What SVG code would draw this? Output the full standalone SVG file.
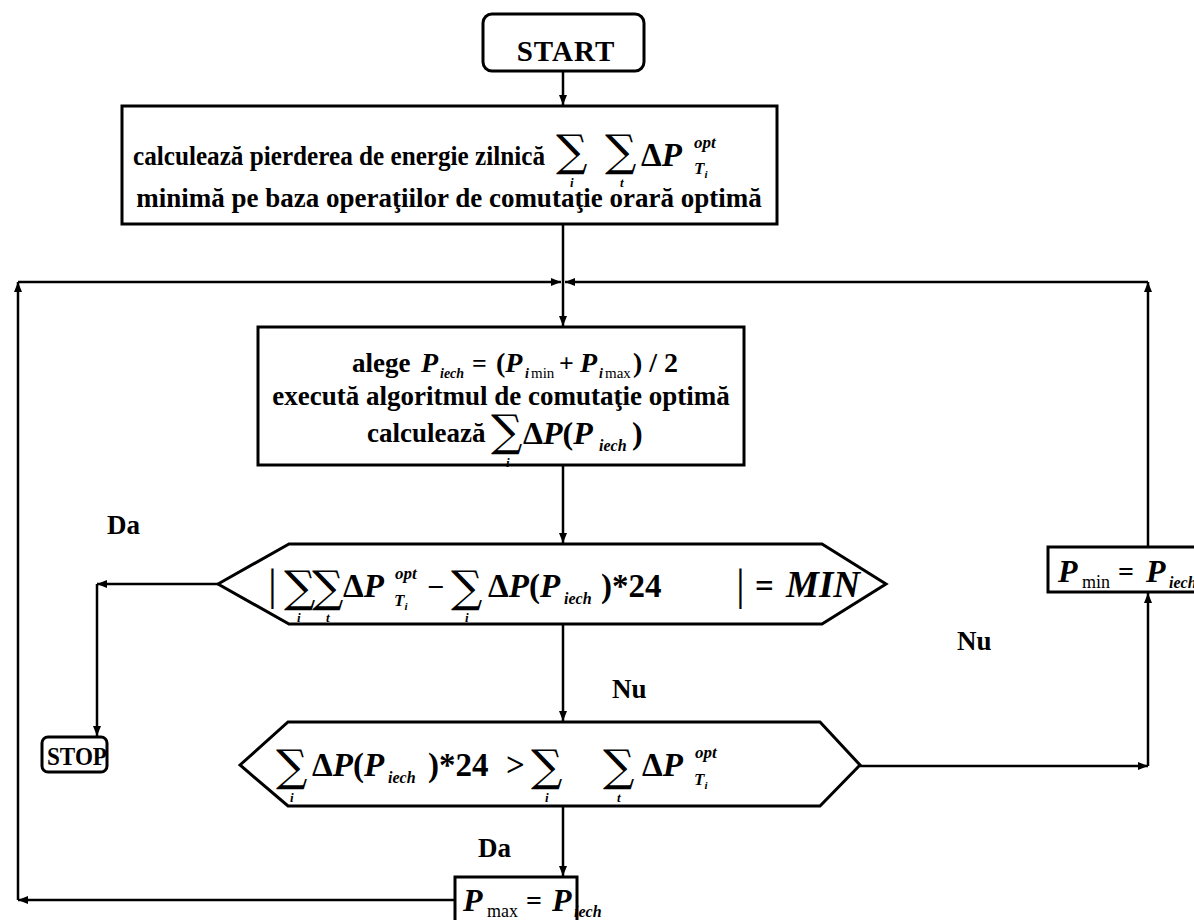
<svg xmlns="http://www.w3.org/2000/svg" width="1194" height="920" viewBox="0 0 1194 920">
  <style>
    .bx { fill: #fff; stroke: #000; stroke-width: 3; }
    .ln { fill: none; stroke: #000; stroke-width: 2.5; }
    .t { font-family: "Liberation Serif", "DejaVu Serif", serif; font-weight: bold; fill: #000; font-size: 27px; }
    .m { font-family: "Liberation Serif", "DejaVu Serif", serif; font-style: italic; font-weight: bold; fill: #000; }
    .r { font-family: "Liberation Serif", "DejaVu Serif", serif; font-weight: bold; fill: #000; }
    .n { font-family: "Liberation Serif", "DejaVu Serif", serif; font-weight: normal; fill: #000; }
    .sg { font-family: "DejaVu Serif", "Liberation Serif", serif; font-weight: normal; fill: #000; font-size: 44px; }
    .sub { font-family: "Liberation Serif", "DejaVu Serif", serif; font-style: italic; font-weight: bold; fill: #000; font-size: 13px; }
  </style>
  <defs>
    <marker id="ah" viewBox="0 0 10 8" refX="10" refY="4" markerWidth="10" markerHeight="8" markerUnits="userSpaceOnUse" orient="auto">
      <path d="M0,0 L10,4 L0,8 z" fill="#000"/>
    </marker>
  </defs>

  <rect width="1194" height="920" fill="#fff"/>

  <!-- connectors -->
  <g id="connectors">
    <path class="ln" d="M563,71 V105" marker-end="url(#ah)"/>
    <path class="ln" d="M563,224 V326" marker-end="url(#ah)"/>
    <path class="ln" d="M563,465 V543" marker-end="url(#ah)"/>
    <path class="ln" d="M563,624 V721" marker-end="url(#ah)"/>
    <path class="ln" d="M563,806 V876" marker-end="url(#ah)"/>
    <!-- Da branch to STOP -->
    <path class="ln" d="M218,584 H97" marker-end="url(#ah)"/>
    <path class="ln" d="M97,584 V736" marker-end="url(#ah)"/>
    <!-- Nu branch to Pmin -->
    <path class="ln" d="M860,766 H1148" marker-end="url(#ah)"/>
    <path class="ln" d="M1148,766 V593" marker-end="url(#ah)"/>
    <!-- loop back from Pmin -->
    <path class="ln" d="M1148,547 V282" marker-end="url(#ah)"/>
    <path class="ln" d="M1148,282 H565" marker-end="url(#ah)"/>
    <!-- loop back from Pmax -->
    <path class="ln" d="M455,900 H18" marker-end="url(#ah)"/>
    <path class="ln" d="M18,900 V282" marker-end="url(#ah)"/>
    <path class="ln" d="M18,282 H561" marker-end="url(#ah)"/>
  </g>

  <!-- START -->
  <g id="start">
    <rect class="bx" x="483" y="14" width="161" height="57" rx="9"/>
    <text class="r" x="566" y="61" text-anchor="middle" font-size="29" letter-spacing="1">START</text>
  </g>

  <!-- daily energy loss -->
  <g id="energy">
    <rect class="bx" x="122" y="106" width="655" height="118"/>
    <text class="t" x="133" y="165" textLength="412" lengthAdjust="spacingAndGlyphs">calculează pierderea de energie zilnică</text>
    <text class="sg" x="556" y="166">∑</text>
    <text class="sub" x="570" y="187" font-size="12">i</text>
    <text class="sg" x="605" y="166">∑</text>
    <text class="sub" x="620" y="187" font-size="12">t</text>
    <text class="r" x="641" y="166" font-size="33">Δ<tspan class="m">P</tspan></text>
    <text class="m" x="694" y="148" font-size="17">opt</text>
    <text class="m" x="694" y="174" font-size="17">T<tspan font-size="11" dy="4">i</tspan></text>
    <text class="t" x="449" y="207" text-anchor="middle">minimă pe baza operaţiilor de comutaţie orară optimă</text>
  </g>

  <!-- choose Piech -->
  <g id="choose">
    <rect class="bx" x="258" y="327" width="486" height="138"/>
    <text class="t" x="352" y="372">alege</text>
    <text class="m" x="421" y="372" font-size="28">P</text>
    <text class="m" x="440" y="378" font-size="14">iech</text>
    <text class="r" x="472" y="372" font-size="26">=</text>
    <text class="r" x="496" y="372" font-size="28">(<tspan class="m">P</tspan></text>
    <text class="m" x="525" y="378" font-size="14">i</text>
    <text class="n" x="531" y="378" font-size="15">min</text>
    <text class="r" x="559" y="372" font-size="26">+</text>
    <text class="m" x="580" y="372" font-size="28">P</text>
    <text class="m" x="599" y="378" font-size="14">i</text>
    <text class="n" x="605" y="378" font-size="15">max</text>
    <text class="r" x="633" y="372" font-size="28">) / 2</text>
    <text class="t" x="501" y="405" text-anchor="middle">execută algoritmul de comutaţie optimă</text>
    <text class="t" x="367" y="442">calculează</text>
    <text class="sg" x="491" y="446">∑</text>
    <text class="sub" x="506" y="467">i</text>
    <text class="r" x="523" y="444" font-size="32">Δ<tspan class="m">P</tspan>(<tspan class="m">P</tspan></text>
    <text class="m" x="599" y="451" font-size="16">iech</text>
    <text class="r" x="632" y="444" font-size="32">)</text>
  </g>

  <!-- MIN test -->
  <g id="test-min">
    <polygon class="bx" points="218,584 289,544 822,544 886,584 822,624 289,624"/>
    <text class="n" x="268" y="600" font-size="44">|</text>
    <text class="sg" x="284" y="602">∑</text>
    <text class="sub" x="297" y="622">i</text>
    <text class="sg" x="312" y="602">∑</text>
    <text class="sub" x="326" y="622">t</text>
    <text class="r" x="343" y="597" font-size="33">Δ<tspan class="m">P</tspan></text>
    <text class="m" x="395" y="579" font-size="17">opt</text>
    <text class="m" x="394" y="606" font-size="17">T<tspan font-size="11" dy="4">i</tspan></text>
    <text class="r" x="427" y="597" font-size="30">−</text>
    <text class="sg" x="451" y="602">∑</text>
    <text class="sub" x="465" y="622">i</text>
    <text class="r" x="488" y="597" font-size="33">Δ<tspan class="m">P</tspan>(<tspan class="m">P</tspan></text>
    <text class="m" x="564" y="604" font-size="16">iech</text>
    <text class="r" x="601" y="597" font-size="33">)*24</text>
    <text class="n" x="736" y="600" font-size="44">|</text>
    <text class="r" x="755" y="597" font-size="33">=</text>
    <text class="m" x="786" y="597" font-size="37">MIN</text>
  </g>

  <!-- comparison test -->
  <g id="test-cmp">
    <polygon class="bx" points="240,765 288,722 820,722 860,765 820,806 288,806"/>
    <text class="sg" x="276" y="781">∑</text>
    <text class="sub" x="290" y="802">i</text>
    <text class="r" x="312" y="776" font-size="33">Δ<tspan class="m">P</tspan>(<tspan class="m">P</tspan></text>
    <text class="m" x="388" y="783" font-size="16">iech</text>
    <text class="r" x="428" y="776" font-size="33">)*24</text>
    <text class="r" x="506" y="776" font-size="33">&gt;</text>
    <text class="sg" x="531" y="781">∑</text>
    <text class="sub" x="545" y="802">i</text>
    <text class="sg" x="603" y="781">∑</text>
    <text class="sub" x="617" y="802">t</text>
    <text class="r" x="642" y="776" font-size="33">Δ<tspan class="m">P</tspan></text>
    <text class="m" x="695" y="758" font-size="17">opt</text>
    <text class="m" x="694" y="785" font-size="17">T<tspan font-size="11" dy="4">i</tspan></text>
  </g>

  <!-- STOP -->
  <g id="stop">
    <rect class="bx" x="42" y="737" width="65" height="35" rx="6"/>
    <text class="r" x="47" y="765" font-size="26" textLength="60" lengthAdjust="spacingAndGlyphs">STOP</text>
  </g>

  <!-- Pmin update -->
  <g id="pmin">
    <rect class="bx" x="1048" y="547" width="160" height="45"/>
    <text class="m" x="1058" y="582" font-size="32">P</text>
    <text class="n" x="1082" y="588" font-size="18">min</text>
    <text class="r" x="1118" y="581" font-size="28">=</text>
    <text class="m" x="1146" y="582" font-size="32">P</text>
    <text class="m" x="1169" y="588" font-size="16">iech</text>
  </g>

  <!-- Pmax update -->
  <g id="pmax">
    <rect class="bx" x="455" y="877" width="122" height="50"/>
    <text class="m" x="463" y="911" font-size="32">P</text>
    <text class="n" x="487" y="917" font-size="18">max</text>
    <text class="r" x="526" y="910" font-size="28">=</text>
    <text class="m" x="552" y="911" font-size="32">P</text>
    <text class="m" x="574" y="917" font-size="16">iech</text>
  </g>

  <!-- branch labels -->
  <g id="labels">
    <text class="t" x="107" y="534" font-size="26">Da</text>
    <text class="t" x="612" y="698" font-size="26">Nu</text>
    <text class="t" x="957" y="650" font-size="26">Nu</text>
    <text class="t" x="478" y="857" font-size="26">Da</text>
  </g>
</svg>
